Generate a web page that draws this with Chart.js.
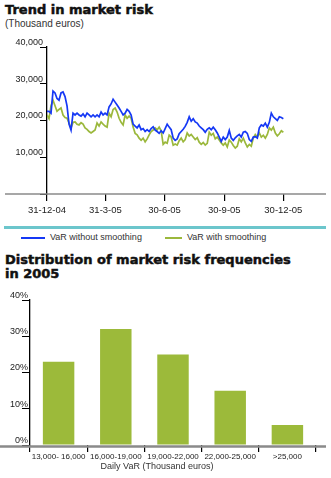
<!DOCTYPE html>
<html><head><meta charset="utf-8">
<script src="https://cdn.jsdelivr.net/npm/chart.js@4"></script>
<style>
body{margin:0;width:331px;height:478px;background:#fff;position:relative;overflow:hidden;font-family:'Liberation Sans',Arial,sans-serif;color:#222;}
.ttl{position:absolute;left:5px;font-family:'DejaVu Sans',sans-serif;font-weight:bold;font-size:13px;line-height:14px;color:#111;white-space:nowrap;-webkit-text-stroke:0.5px #111;}
.sub{position:absolute;font-size:9px;color:#333;white-space:nowrap;}
.box{position:absolute;}
</style>
</head><body>
<div class="ttl" style="top:3px;">Trend in market risk</div>
<div class="sub" style="left:5px;top:18px;font-size:10px;">(Thousand euros)</div>
<div class="box" style="left:0;top:30px;width:331px;height:190px;"><canvas id="c1"></canvas></div>
<div class="box" style="left:4px;top:226px;width:322px;height:3px;background:#6cc6cc;"></div>
<div class="box" style="left:21px;top:237px;width:24px;height:1.5px;background:#1538f5;"></div>
<div class="sub" style="left:50px;top:232px;">VaR without smoothing</div>
<div class="box" style="left:165px;top:237px;width:17px;height:1.5px;background:#9bb83c;"></div>
<div class="sub" style="left:187px;top:232px;">VaR with smoothing</div>
<div class="ttl" style="top:253px;">Distribution of market risk frequencies<br>in 2005</div>
<div class="box" style="left:0;top:285px;width:331px;height:180px;"><canvas id="c2"></canvas></div>
<div class="sub" style="left:57px;top:461px;width:200px;text-align:center;">Daily VaR (Thousand euros)</div>
<script>
// ---- Trend in market risk (thousand euros), sampled through 2005 ----
const varWithoutSmoothing = [22.5,22.5,22,28,27.5,26,25.5,27.5,27.8,26.5,24,19,17.4,22,21.5,22,21.5,21.2,21.8,21,22,21.5,21,21.5,21,21.5,21,22.3,21.5,22,21.5,23.7,24.5,25.8,25,24.2,23.4,22.5,21.5,22,23,22.5,21.5,19,18.5,18,18.8,17.5,17.8,17,17.5,17,17.8,18.3,17.4,17,16.5,17.2,16.6,17.8,19,18.2,17.5,15.2,14.6,15,16.4,17,17.6,18.4,19.5,21,19.8,20.5,19.6,19.3,18.5,18,17.5,16.8,17.6,18,17.5,18.2,17.5,16.6,15.5,14.3,15.5,14.8,15.5,17.3,15.2,14.6,15.3,15.8,16.2,15.5,16.8,17,16.5,14.8,14.3,15.5,15.6,15.2,18,18.8,18.5,19.3,18.2,19.5,22,21,20.5,20,21,20.8,20.5];
const varWithSmoothing = [21.5,20.5,24,25.5,24,22.5,23,23.4,21.5,20.8,20.6,19.3,18,19.5,19.6,19,18.8,19.4,19,18,17.6,17,16.6,17,17.4,19.3,18.5,19.6,19,18.5,18.2,22,21,23,23.4,22.3,20.6,19.5,18.8,21.5,20.6,21.2,20.6,18.2,16.5,16.1,15.2,14.6,15.2,14.2,15,16.1,17,17.4,18,17.5,18.2,17.2,13.5,14.1,13.8,16,15.5,13.3,13.6,13.3,14.5,15.2,14.2,14.8,16.6,15.8,16.2,15.5,14.8,15.3,14.1,13.5,14,13.3,13.8,16.8,16,16.5,15,15.5,14.7,13.9,13.3,13.9,12.8,14.7,14.1,13.2,12.5,13,15,14.2,15.2,13.9,12.8,13.5,13,15.2,16.2,15.5,16.6,15.5,16,15.2,16.2,18,17.4,18.2,16.6,15.8,16.4,17.2,16.8];
const xTickDays = [0,90,181,273,364];
const xTickLabels = ['31-12-04','31-3-05','30-6-05','30-9-05','30-12-05'];
const yTicksTrend = [0,10000,20000,30000,40000];

// ---- Distribution of market risk frequencies in 2005 ----
const bandLabels = ['13,000- 16,000','16,000-19,000','19,000-22,000','22,000-25,000','>25,000'];
const bandFreq = [23,32,25,15,5.5];
const yTicksFreq = [0,10,20,30,40];

const FONT = "'Liberation Sans',Arial,sans-serif";
const nDays = varWithoutSmoothing.length;
const toPts = arr => arr.map((v,i)=>({x: i*364/(nDays-1), y: v*1000}));

const extLine = {
  id:'extLine',
  beforeDatasetsDraw(chart, args, o){
    const ctx = chart.ctx, y = chart.chartArea.bottom + (o.dy||0);
    ctx.save(); ctx.strokeStyle = o.color; ctx.lineWidth = o.width;
    ctx.beginPath(); ctx.moveTo(o.left, y); ctx.lineTo(o.right, y); ctx.stroke(); ctx.restore();
  }
};

new Chart(document.getElementById('c1'), {
  type:'line',
  data:{datasets:[
    {label:'VaR without smoothing', data: toPts(varWithoutSmoothing), borderColor:'#1538f5', borderWidth:1.7, pointRadius:0, tension:0},
    {label:'VaR with smoothing', data: toPts(varWithSmoothing), borderColor:'#9bb83c', borderWidth:1.7, pointRadius:0, tension:0}
  ]},
  options:{
    responsive:true, maintainAspectRatio:false, animation:false, events:[],
    layout:{padding:{top:17,left:0,right:5,bottom:0}},
    plugins:{legend:{display:false}, tooltip:{enabled:false}, extLine:{left:5,right:326,color:'#8a8a8a',width:1.5,dy:0}},
    scales:{
      x:{type:'linear', min:0, max:429.7,
        afterBuildTicks:s=>{s.ticks = xTickDays.map(v=>({value:v}));},
        afterFit:s=>{s.height = 26;},
        grid:{drawOnChartArea:false, color:'#000', tickLength:7, lineWidth:1.2},
        border:{display:false},
        ticks:{padding:4, color:'#222', font:{family:FONT,size:9.5}, maxRotation:0,
          callback:(v)=>{const i = xTickDays.indexOf(v); return i>=0 ? xTickLabels[i] : '';}}
      },
      y:{min:0, max:40000,
        afterBuildTicks:s=>{s.ticks = yTicksTrend.map(v=>({value:v}));},
        afterFit:s=>{s.width = 47;},
        grid:{drawOnChartArea:false, color:'#000', tickLength:7, lineWidth:1},
        border:{color:'#000', width:1.3},
        ticks:{padding:-3, color:'#222', font:{family:FONT,size:9, lineHeight:1},
          callback:v=> v===0 ? '' : [v.toLocaleString('en-US'), '']}
      }
    }
  },
  plugins:[extLine]
});

new Chart(document.getElementById('c2'), {
  type:'bar',
  data:{labels:bandLabels, datasets:[{data:bandFreq, backgroundColor:'#9cba3a', categoryPercentage:1, barPercentage:0.55}]},
  options:{
    responsive:true, maintainAspectRatio:false, animation:false, events:[],
    layout:{padding:{top:15,left:0,right:15,bottom:0}},
    plugins:{legend:{display:false}, tooltip:{enabled:false}, extLine:{left:0,right:326,color:'#8a8a8a',width:2.5,dy:1.5}},
    scales:{
      x:{
        afterFit:s=>{s.height = 20;},
        grid:{drawOnChartArea:false, color:'#000', tickLength:7, lineWidth:1.2, offset:true},
        border:{display:false},
        ticks:{padding:0, color:'#222', font:{family:FONT,size:8}, maxRotation:0, autoSkip:false}
      },
      y:{min:0, max:40,
        afterBuildTicks:s=>{s.ticks = yTicksFreq.map(v=>({value:v}));},
        afterFit:s=>{s.width = 30;},
        grid:{drawOnChartArea:false, color:'#000', tickLength:8, lineWidth:1},
        border:{color:'#000', width:1.3},
        ticks:{padding:-6, color:'#222', font:{family:FONT,size:9, lineHeight:1},
          callback:v=>[v+'%', '']}
      }
    }
  },
  plugins:[extLine]
});
</script>
</body></html>
